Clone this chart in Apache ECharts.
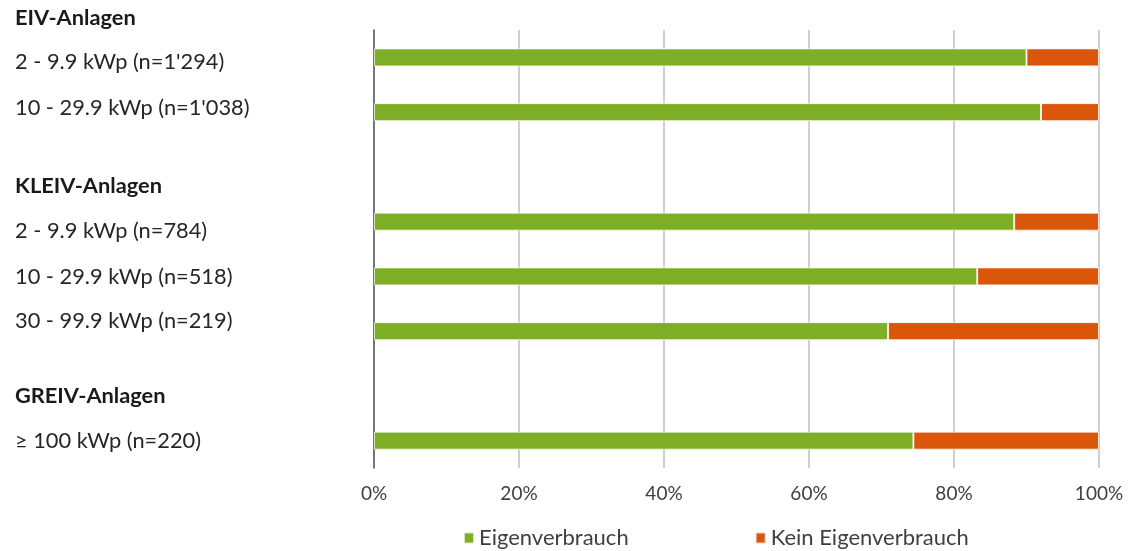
<!DOCTYPE html>
<html>
<head>
<meta charset="utf-8">
<style>
  html, body { margin: 0; padding: 0; background: #ffffff; }
  #chart { width: 1132px; height: 551px; }
</style>
<script src="https://cdn.jsdelivr.net/npm/echarts@6/dist/echarts.min.js"></script>
</head>
<body>
<div id="chart"></div>
<script>
// Rows of the bar axis; empty strings are spacer rows between the groups
const categories = [
  "2 - 9.9 kWp (n=1'294)",
  "10 - 29.9 kWp (n=1'038)",
  "",
  "2 - 9.9 kWp (n=784)",
  "10 - 29.9 kWp (n=518)",
  "30 - 99.9 kWp (n=219)",
  " ",
  "≥ 100 kWp (n=220)"
];
// Share of systems with / without self-consumption, in percent
const eigenverbrauch = [90.0, 92.0, null, 88.3, 83.2, 70.9, null, 74.4];
const keinEigenverbrauch = [10.0, 8.0, null, 11.7, 16.8, 29.1, null, 25.6];
const seriesNames = ['Eigenverbrauch', 'Kein Eigenverbrauch'];
const xTicks = [0, 20, 40, 60, 80, 100];

// Row labels on the left, including the bold group headings
const rowLabels = [
  { text: 'EIV-Anlagen', bold: true },
  { text: categories[0] },
  { text: categories[1] },
  { text: 'KLEIV-Anlagen', bold: true },
  { text: categories[3] },
  { text: categories[4] },
  { text: categories[5] },
  { text: 'GREIV-Anlagen', bold: true },
  { text: categories[7] }
];
const rowLabelY = [18, 62, 108, 186, 231, 277, 321, 396, 441];

const FONT = 'Lato, "Open Sans", sans-serif';

const chart = echarts.init(document.getElementById('chart'), null, { renderer: 'canvas' });

const option = {
  backgroundColor: '#ffffff',
  animation: false,
  textStyle: { fontFamily: FONT },
  grid: { left: 374, right: 33, top: 30, bottom: 83, containLabel: false },
  legend: {
    data: seriesNames,
    left: 458,
    top: 522,
    itemWidth: 10,
    itemHeight: 11,
    itemGap: 126,
    icon: 'rect',
    textStyle: { fontFamily: FONT, fontSize: 22, color: '#404040' }
  },
  xAxis: {
    type: 'value',
    min: xTicks[0],
    max: xTicks[xTicks.length - 1],
    interval: 20,
    axisLine: { show: false },
    axisTick: { show: false },
    axisLabel: {
      formatter: '{value}%',
      margin: 16,
      fontFamily: FONT,
      fontSize: 19,
      color: '#404040'
    },
    splitLine: { show: true, lineStyle: { color: '#bfbfbf', width: 1.5 } }
  },
  yAxis: {
    type: 'category',
    inverse: true,
    data: categories,
    axisLabel: { show: false },
    axisTick: { show: false },
    axisLine: { show: true, lineStyle: { color: '#595959', width: 1.5 } },
    splitLine: { show: false }
  },
  series: [
    {
      name: seriesNames[0],
      type: 'bar',
      stack: 'share',
      barWidth: 18,
      data: eigenverbrauch,
      itemStyle: { color: '#7eae25', borderColor: 'rgba(255,255,255,0.7)', borderWidth: 1 }
    },
    {
      name: seriesNames[1],
      type: 'bar',
      stack: 'share',
      barWidth: 18,
      data: keinEigenverbrauch,
      itemStyle: { color: '#da560b', borderColor: 'rgba(255,255,255,0.7)', borderWidth: 1 }
    }
  ],
  graphic: rowLabels.map((r, i) => ({
    type: 'text',
    x: 15,
    y: rowLabelY[i],
    style: {
      text: r.text,
      fontFamily: FONT,
      fontSize: 21.8,
      fontWeight: r.bold ? 'bold' : 'normal',
      verticalAlign: 'middle',
      fill: r.bold ? '#1a1a1a' : '#262626'
    }
  }))
};

chart.setOption(option);
</script>
</body>
</html>
